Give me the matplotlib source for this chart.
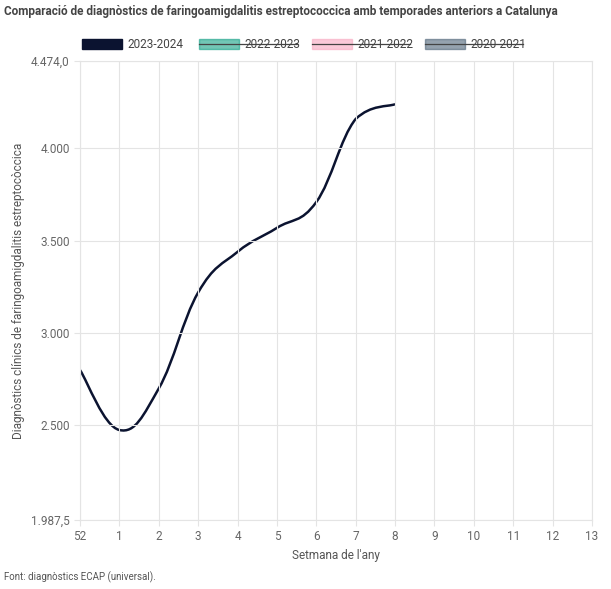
import matplotlib
matplotlib.use("Agg")
import matplotlib.pyplot as plt
from matplotlib.path import Path
from matplotlib.patches import PathPatch, Rectangle
from matplotlib.lines import Line2D

title = "Comparació de diagnòstics de faringoamigdalitis estreptococcica amb temporades anteriors a Catalunya"
week_labels = ["52", "1", "2", "3", "4", "5", "6", "7", "8", "9", "10", "11", "12", "13"]
values_2324 = [2800, 2475, 2700, 3220, 3440, 3570, 3710, 4160, 4240]
ytick_vals = [1987.5, 2500, 3000, 3500, 4000, 4474]
ytick_labels = ["1.987,5", "2.500", "3.000", "3.500", "4.000", "4.474,0"]
series_names = ["2023-2024", "2022-2023", "2021-2022", "2020-2021"]
series_colors = ["#0b1330", "#14a085", "#f7a8c0", "#4e6478"]
hidden = [False, True, True, True]

plt.rcParams["font.family"] = "Roboto"
fig = plt.figure(figsize=(6.11, 5.89), dpi=100)
ax = fig.add_axes([80/611, 1-520/589, (592-80)/611, (520-61)/589])
ax.set_xlim(0, len(week_labels)-1)
ax.set_ylim(1987.5, 4474)
ax.set_xticks(range(len(week_labels)))
ax.set_xticklabels(week_labels)
ax.set_yticks(ytick_vals)
ax.set_yticklabels(ytick_labels)
ax.grid(True, color="#e4e4e4", lw=0.8)
for s in ax.spines.values():
    s.set_color("#e4e4e4")
ax.tick_params(colors="#666666", labelsize=8.5, length=4, color="#e4e4e4")
ax.set_xlabel("Setmana de l'any", fontsize=8.5, color="#555555")
ax.set_ylabel("Diagnòstics clínics de faringoamigdalitis estreptocòccica", fontsize=8.5, color="#555555")

xs = list(range(len(values_2324)))
ys = values_2324
t = 0.2
verts = [(xs[0], ys[0])]
codes = [Path.MOVETO]
n = len(xs)
for i in range(n-1):
    p0 = (xs[max(i-1, 0)], ys[max(i-1, 0)])
    p1 = (xs[i], ys[i]); p2 = (xs[i+1], ys[i+1])
    p3 = (xs[min(i+2, n-1)], ys[min(i+2, n-1)])
    c1 = (p1[0] + (p2[0]-p0[0])*t, p1[1] + (p2[1]-p0[1])*t)
    c2 = (p2[0] - (p3[0]-p1[0])*t, p2[1] - (p3[1]-p1[1])*t)
    if i == n-2:
        c1 = (p1[0] + (p2[0]-p0[0])*t, min(c1[1], p2[1]))
    verts += [c1, c2, p2]
    codes += [Path.CURVE4]*3
ax.add_patch(PathPatch(Path(verts, codes), fill=False, ec=series_colors[0], lw=1.8, clip_on=True))

fig.text(4/611, 1-12/589, title, fontsize=8.5, color="#444444", fontweight="bold", va="center")
fig.text(4/611, 1-577/589, "Font: diagnòstics ECAP (universal).", fontsize=7, color="#555555", va="center")

lx = [82, 199, 312, 425]
for name, c, h, x in zip(series_names, series_colors, hidden, lx):
    fig.patches.append(Rectangle((x/611, 1-49/589), 40/611, 10/589, transform=fig.transFigure,
                                 fc=c, ec=c, alpha=0.6 if h else 1))
    txt = fig.text((x+45)/611, 1-44/589, name, fontsize=8.5, color="#444444", va="center")
    if h:
        fig.lines.append(Line2D([x/611, (x+98)/611], [1-44/589]*2, transform=fig.transFigure,
                                color="#444444", lw=0.9))

fig.savefig("out.png", dpi=100)
